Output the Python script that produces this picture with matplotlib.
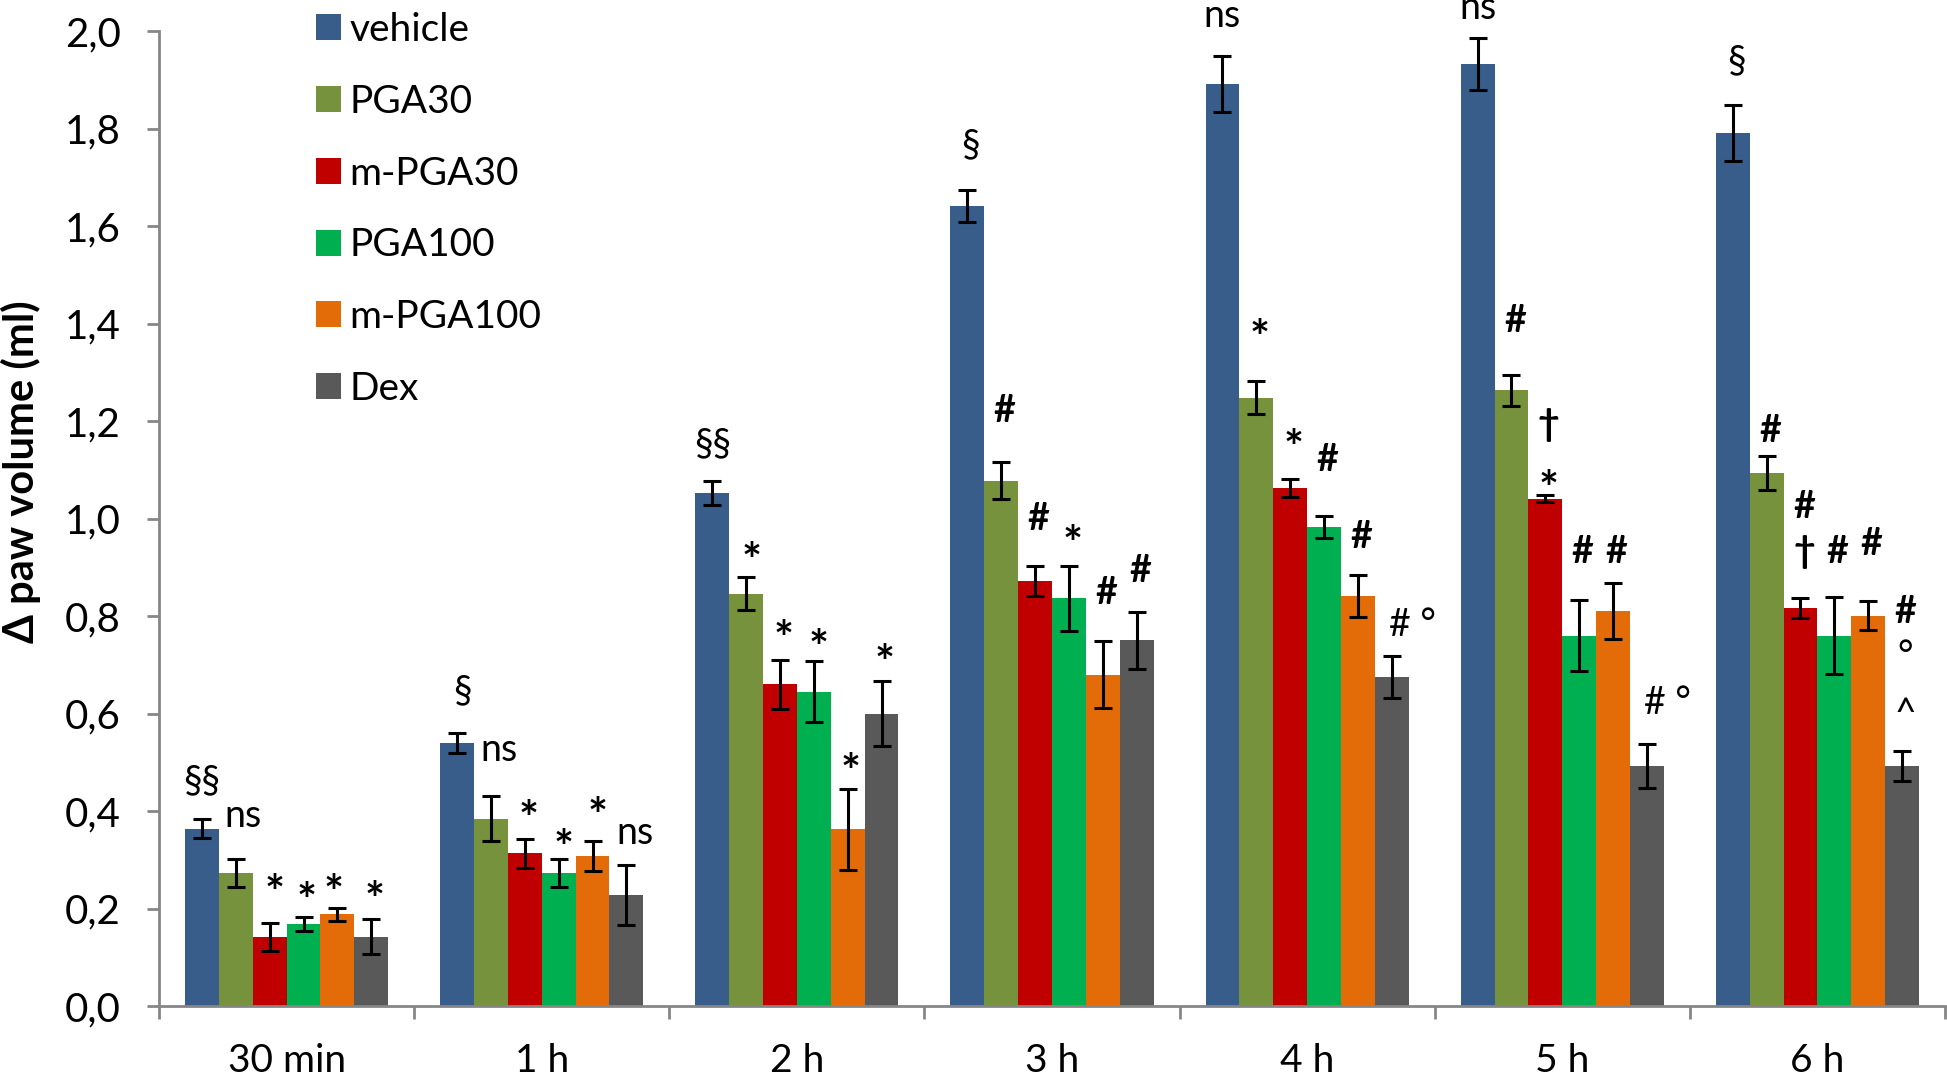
import numpy as np
import matplotlib
matplotlib.use("Agg")
import matplotlib.pyplot as plt
from matplotlib.patches import Patch
from matplotlib.transforms import offset_copy

plt.rcParams['font.family'] = ['Lato', 'DejaVu Sans']

categories = ['30 min', '1 h', '2 h', '3 h', '4 h', '5 h', '6 h']
series = ['vehicle', 'PGA30', 'm-PGA30', 'PGA100', 'm-PGA100', 'Dex']
colors = ['#385D8A', '#76923C', '#C00000', '#00B050', '#E36C09', '#595959']

vehicle   = [0.364, 0.540, 1.052, 1.641, 1.891, 1.933, 1.791]
pga30     = [0.273, 0.384, 0.846, 1.077, 1.248, 1.263, 1.093]
mpga30    = [0.142, 0.313, 0.660, 0.872, 1.063, 1.041, 0.816]
pga100    = [0.168, 0.273, 0.645, 0.836, 0.983, 0.760, 0.760]
mpga100   = [0.188, 0.308, 0.363, 0.680, 0.841, 0.810, 0.801]
dex       = [0.142, 0.228, 0.600, 0.750, 0.675, 0.493, 0.493]

vehicle_err = [0.019, 0.021, 0.025, 0.033, 0.058, 0.053, 0.058]
pga30_err   = [0.029, 0.046, 0.033, 0.038, 0.034, 0.032, 0.035]
mpga30_err  = [0.029, 0.029, 0.050, 0.030, 0.018, 0.008, 0.020]
pga100_err  = [0.015, 0.028, 0.063, 0.066, 0.022, 0.073, 0.078]
mpga100_err = [0.013, 0.031, 0.083, 0.068, 0.043, 0.057, 0.030]
dex_err     = [0.036, 0.061, 0.066, 0.059, 0.043, 0.045, 0.031]

yticks = [0.0, 0.2, 0.4, 0.6, 0.8, 1.0, 1.2, 1.4, 1.6, 1.8, 2.0]
ytick_labels = ['0,0', '0,2', '0,4', '0,6', '0,8', '1,0', '1,2', '1,4', '1,6', '1,8', '2,0']

# significance marks: (category index, series index, text, y centre, x shift in bar widths)
marks = [
    (0, 0, '§§', 0.46, 0.0), (0, 1, 'ns', 0.39, 0.2), (0, 2, '*', 0.265, 0.15),
    (0, 3, '*', 0.248, 0.1), (0, 4, '*', 0.265, -0.1), (0, 5, '*', 0.25, 0.1),
    (1, 0, '§', 0.645, 0.15), (1, 1, 'ns', 0.525, 0.25), (1, 2, '*', 0.416, 0.1),
    (1, 3, '*', 0.358, 0.15), (1, 4, '*', 0.423, 0.15), (1, 5, 'ns', 0.354, 0.25),
    (2, 0, '§§', 1.153, 0.0), (2, 1, '*', 0.946, 0.15), (2, 2, '*', 0.786, 0.1),
    (2, 3, '*', 0.767, 0.15), (2, 4, '*', 0.513, 0.1), (2, 5, '*', 0.736, 0.1),
    (3, 0, '§', 1.766, 0.1), (3, 1, '#', 1.220, 0.1), (3, 2, '#', 1.000, 0.1),
    (3, 3, '*', 0.980, 0.1), (3, 4, '#', 0.848, 0.1), (3, 5, '#', 0.893, 0.1),
    (4, 0, 'ns', 2.03, 0.0), (4, 1, '*', 1.404, 0.1), (4, 2, '*', 1.177, 0.1),
    (4, 3, '#', 1.120, 0.1), (4, 4, '#', 0.963, 0.1), (4, 5, '# °', 0.782, 0.6),
    (5, 0, 'ns', 2.047, 0.0), (5, 1, '#', 1.405, 0.1), (5, 2, '†', 1.192, 0.1),
    (5, 2, '*', 1.093, 0.1), (5, 3, '#', 0.931, 0.1), (5, 4, '#', 0.931, 0.1),
    (5, 5, '# °', 0.622, 0.6),
    (6, 0, '§', 1.937, 0.1), (6, 1, '#', 1.180, 0.1), (6, 2, '#', 1.023, 0.1),
    (6, 2, '†', 0.931, 0.1), (6, 3, '#', 0.931, 0.1), (6, 4, '#', 0.948, 0.1),
    (6, 5, '#', 0.808, 0.1), (6, 5, '°', 0.730, 0.1), (6, 5, '^', 0.612, 0.1),
]

values = [vehicle, pga30, mpga30, pga100, mpga100, dex]
errors = [vehicle_err, pga30_err, mpga30_err, pga100_err, mpga100_err, dex_err]

W, H = 1947, 1075
fig = plt.figure(figsize=(W / 100, H / 100), dpi=100)
ax = fig.add_axes([159 / W, 69 / H, (1945 - 159) / W, (1006 - 31) / H])

x = np.arange(len(categories))
bw = 0.1327
for i, (name, vals, errs, c) in enumerate(zip(series, values, errors, colors)):
    pos = x + (i - 2.5) * bw
    ax.bar(pos, vals, width=bw, color=c, edgecolor='none', label=name, zorder=2)
    ax.errorbar(pos, vals, yerr=errs, fmt='none', ecolor='black', elinewidth=2.2,
                capsize=6.2, capthick=2.2, zorder=3)

# glyph styling: (fontsize, weight, vertical shift in points)
glyph_style = {
    '*': (34, 'bold', -13),
    '#': (27, 'bold', 0),
    '†': (27, 'bold', 0),
    '°': (27, 'normal', -5),
    '^': (27, 'normal', -5),
}
for ci, si, txt, yv, dx in marks:
    xp = ci + (si - 2.5) * bw + dx * bw
    fs, fw, dy = glyph_style.get(txt, (27, 'normal', 0))
    tr = offset_copy(ax.transData, fig=fig, x=0, y=dy, units='points')
    ax.text(xp, yv, txt, ha='center', va='center', fontsize=fs, fontweight=fw,
            color='black', clip_on=False, zorder=4, transform=tr)

ax.set_xlim(-0.5, len(categories) - 0.5)
ax.set_ylim(0, 2.0)
ax.set_yticks(yticks)
ax.set_yticklabels(ytick_labels)

ax.set_xticks(np.arange(-0.5, len(categories), 1.0))
ax.set_xticklabels([''] * (len(categories) + 1))
ax.set_xticks(x, minor=True)
ax.set_xticklabels(categories, minor=True)

gray = '#868686'
for s in ['top', 'right']:
    ax.spines[s].set_visible(False)
for s in ['left', 'bottom']:
    ax.spines[s].set_color(gray)
    ax.spines[s].set_linewidth(2.0)

ax.tick_params(axis='y', which='major', direction='out', length=8.5, width=2.0,
               color=gray, labelsize=29, pad=19)
ax.tick_params(axis='x', which='major', direction='out', length=9, width=2.0,
               color=gray)
ax.tick_params(axis='x', which='minor', length=0, labelsize=28, pad=27)

ax.set_ylabel('Δ paw volume (ml)', fontsize=30, fontweight='bold')
ax.yaxis.set_label_coords(-0.066, 0.548)

handles = [Patch(facecolor=c, edgecolor='none') for c in colors]
leg = fig.legend(handles, series, loc='upper left', bbox_to_anchor=(316 / W, 1 - 12 / H),
                 frameon=False, fontsize=28, handlelength=0.65, handleheight=0.65,
                 handletextpad=0.2, labelspacing=0.92, borderpad=0, borderaxespad=0)

fig.savefig('out.png', dpi=100)
